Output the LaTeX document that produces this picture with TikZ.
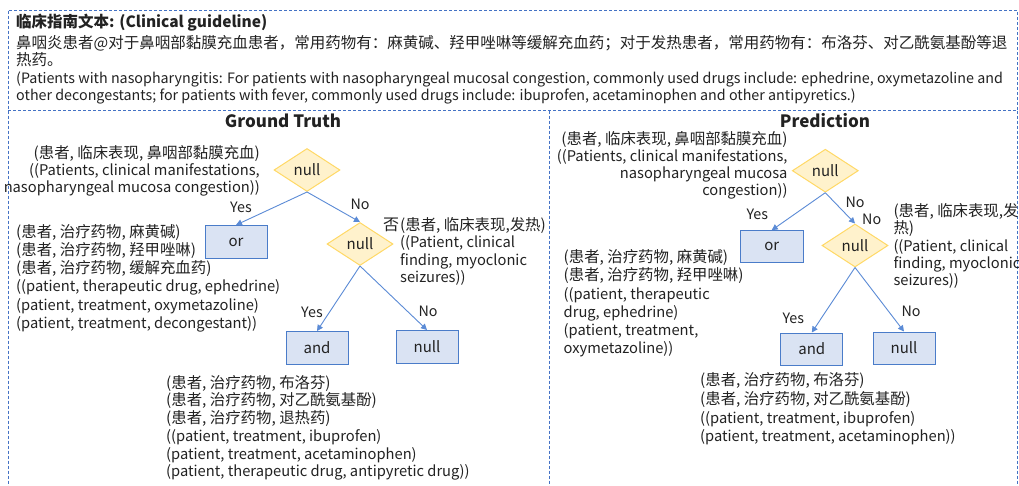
\documentclass[tikz,border=0pt]{standalone}
\usepackage{fontspec}
\setmainfont{Noto Sans CJK SC}
\usetikzlibrary{shapes.geometric,arrows.meta}
\definecolor{bordblue}{HTML}{4472C4}
\definecolor{dfill}{HTML}{FFF2CC}
\definecolor{ddraw}{HTML}{FFD966}
\definecolor{bfill}{HTML}{DAE3F3}
\definecolor{bdraw}{HTML}{4A7CC9}
\definecolor{arr}{HTML}{5B8BD6}
\definecolor{txtc}{HTML}{222222}
\newcommand\zhs[1]{\fontsize{15.4}{#1}\selectfont}
\newcommand\ens[1]{\fontsize{14.7}{#1}\selectfont}
\begin{document}
\begin{tikzpicture}[x=1pt,y=-1pt,
 frame/.style={draw=bordblue, line width=0.8pt, dash pattern=on 3pt off 2pt},
 dia/.style={diamond, draw=ddraw, fill=dfill, line width=1pt, inner sep=0pt, minimum width=66pt, minimum height=43pt, aspect=1.5, font=\fontsize{15}{18}\selectfont, text=txtc},
 box/.style={rectangle, draw=bdraw, fill=bfill, line width=1pt, minimum width=62pt, minimum height=33pt, inner sep=0pt, font=\fontsize{15}{18}\selectfont, text=txtc},
 lbl/.style={inner sep=0pt, font=\fontsize{14.3}{17}\selectfont, text=txtc},
 blk/.style={inner sep=0pt, text=txtc, align=left},
 blkr/.style={inner sep=0pt, text=txtc, align=right},
 arrow/.style={draw=arr, line width=0.9pt, -{Triangle[length=6pt,width=6pt]}},
 head/.style={inner sep=0pt, font=\bfseries\fontsize{17}{20}\selectfont, text=txtc},
]
\useasboundingbox (0,0) rectangle (1019,485);
\fill[white] (0,0) rectangle (1019,485);
% frames
\draw[frame] (8,10.7) rectangle (1017.5,110.5);
\draw[frame] (8,110.5) -- (8,490);
\draw[frame] (549,110.5) -- (549,490);
\draw[frame] (1017.5,110.5) -- (1017.5,490);
% top text
\node[inner sep=0pt, anchor=west, text=txtc, font=\bfseries\fontsize{15.5}{17}\selectfont] (title) at (16,23) {临床指南文本: (Clinical guideline)};
\node[blk, anchor=north west, font=\fontsize{15.5}{17.5}\selectfont] (cn) at (16,35) {鼻咽炎患者@对于鼻咽部黏膜充血患者，常用药物有：麻黄碱、羟甲唑啉等缓解充血药；对于发热患者，常用药物有：布洛芬、对乙酰氨基酚等退\\热药。};
\node[blk, anchor=north west, font=\fontsize{14.3}{17}\selectfont] (en) at (16,71.5) {(Patients with nasopharyngitis: For patients with nasopharyngeal mucosal congestion, commonly used drugs include: ephedrine, oxymetazoline and\\other decongestants; for patients with fever, commonly used drugs include: ibuprofen, acetaminophen and other antipyretics.)};
% ---------- Ground truth ----------
\node[head] (gt) at (283,121) {Ground Truth};
\node[dia] (d1) at (307,170) {null};
\node[box] (or1) at (236,242) {or};
\node[dia] (d2) at (360,244) {null};
\node[box] (and1) at (317,348) {and};
\node[box] (n1) at (427,347) {null};
\draw[arrow] (d1.south) -- (or1.north);
\draw[arrow] (d1.south) -- (d2.north);
\draw[arrow] (d2.south) -- (and1.north);
\draw[arrow] (d2.south) -- (n1.north);
\node[lbl] (y1) at (241,207) {Yes};
\node[lbl] (no1) at (360,204) {No};
\node[lbl] (y2) at (312,312) {Yes};
\node[lbl] (no2) at (428,311) {No};
\node[blkr, anchor=north east, font=\ens{17}] (a1) at (260,145) {\zhs{17}(患者, 临床表现, 鼻咽部黏膜充血)\\((Patients, clinical manifestations,\\nasopharyngeal mucosa congestion))};
\node[blk, anchor=north west, font=\ens{18.2}] (a2) at (16,224) {\zhs{18.2}(患者, 治疗药物, 麻黄碱)\\\zhs{18.2}(患者, 治疗药物, 羟甲唑啉)\\\zhs{18.2}(患者, 治疗药物, 缓解充血药)\\((patient, therapeutic drug, ephedrine)\\(patient, treatment, oxymetazoline)\\(patient, treatment, decongestant))};
\node[inner sep=0pt, text=txtc, font=\fontsize{16}{18}\selectfont] (fou) at (391,225) {否};
\node[blk, anchor=north west, font=\ens{17.2}] (a3) at (400,217.5) {\zhs{17.2}(患者, 临床表现,发热)\\((Patient, clinical\\finding, myoclonic\\seizures))};
\node[blk, anchor=north west, font=\ens{17.7}] (a4) at (166,375) {\zhs{17.7}(患者, 治疗药物, 布洛芬)\\\zhs{17.7}(患者, 治疗药物, 对乙酰氨基酚)\\\zhs{17.7}(患者, 治疗药物, 退热药)\\((patient, treatment, ibuprofen)\\(patient, treatment, acetaminophen)\\(patient, therapeutic drug, antipyretic drug))};
% ---------- Prediction ----------
\node[head] (pr) at (825,121) {Prediction};
\node[dia] (p1) at (825.3,170.7) {null};
\node[box, minimum width=63pt, minimum height=32pt] (or2) at (771.7,246.7) {or};
\node[dia] (p2) at (855,245.5) {null};
\node[box, minimum height=32pt] (and2) at (811.8,349) {and};
\node[box, minimum height=32pt] (n2) at (904,348) {null};
\draw[arrow] (p1.south) -- (or2.north);
\draw[arrow] (p1.south) -- (p2.north);
\draw[arrow] (p2.south) -- (and2.north);
\draw[arrow] (p2.south) -- (n2.north);
\node[lbl] (y3) at (757.3,214.3) {Yes};
\node[lbl] (no3) at (855,202.3) {No};
\node[lbl] (no4) at (871.7,219) {No};
\node[lbl] (y4) at (793.3,318.3) {Yes};
\node[lbl] (no5) at (911,311.7) {No};
\node[blkr, anchor=north east, font=\ens{17}] (b1) at (787.7,130.8) {\zhs{17}(患者, 临床表现, 鼻咽部黏膜充血)\\((Patients, clinical manifestations,\\nasopharyngeal mucosa\\congestion))};
\node[blk, anchor=north west, font=\ens{18.3}] (b2) at (563.5,249.2) {\zhs{18.3}(患者, 治疗药物, 麻黄碱)\\\zhs{18.3}(患者, 治疗药物, 羟甲唑啉)\\((patient, therapeutic\\drug, ephedrine)\\(patient, treatment,\\oxymetazoline))};
\node[blk, anchor=north west, font=\ens{17.25}] (b3) at (893.3,203.5) {\zhs{17.25}(患者, 临床表现,发\\\zhs{17.25}热)\\((Patient, clinical\\finding, myoclonic\\seizures))};
\node[blk, anchor=north west, font=\ens{18.7}] (b4) at (700,372.5) {\zhs{18.7}(患者, 治疗药物, 布洛芬)\\\zhs{18.7}(患者, 治疗药物, 对乙酰氨基酚)\\((patient, treatment, ibuprofen)\\(patient, treatment, acetaminophen))};
\end{tikzpicture}
\end{document}
